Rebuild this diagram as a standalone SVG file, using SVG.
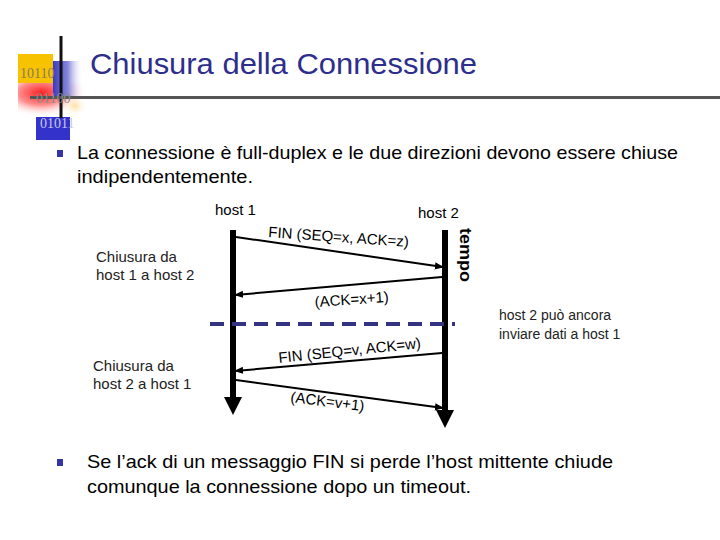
<svg xmlns="http://www.w3.org/2000/svg" width="720" height="540" viewBox="0 0 720 540">
<defs>
<linearGradient id="gBlue" x1="0" y1="0" x2="1" y2="0">
<stop offset="0" stop-color="#3a3ac0"/><stop offset="0.5" stop-color="#8888dd"/><stop offset="1" stop-color="#ffffff" stop-opacity="0"/>
</linearGradient>
<radialGradient id="gRed" cx="0.35" cy="0.3" r="0.7">
<stop offset="0" stop-color="#ff2020"/><stop offset="0.5" stop-color="#ff9090"/><stop offset="1" stop-color="#ffffff" stop-opacity="0"/>
</radialGradient>
<radialGradient id="gOr" cx="0.5" cy="0.5" r="0.5">
<stop offset="0" stop-color="#ffe0a0"/><stop offset="1" stop-color="#ffffff" stop-opacity="0"/>
</radialGradient>
<marker id="ah" viewBox="0 0 10 10" refX="9" refY="5" markerWidth="9" markerHeight="9" markerUnits="userSpaceOnUse" orient="auto">
<path d="M0,1 L10,5 L0,9 Z" fill="#000"/>
</marker>
<marker id="big" viewBox="0 0 10 10" refX="5" refY="5" markerWidth="18" markerHeight="18" markerUnits="userSpaceOnUse" orient="auto">
<path d="M0,0 L10,5 L0,10 Z" fill="#000"/>
</marker>
</defs>
<style>
.t{font-family:"Liberation Sans",Arial,sans-serif;}
.title{font-size:30px;fill:#2e2e8c;}
.body{font-size:19px;fill:#000;}
.note{font-size:15px;fill:#222;}
.lbl{font-size:15px;fill:#000;}
.bin{font-family:"Liberation Serif",serif;font-size:14px;}
.msg{stroke:#000;stroke-width:2;fill:none;marker-end:url(#ah);}
.life{stroke:#000;stroke-width:6;fill:none;marker-end:url(#big);}
</style>
<rect width="720" height="540" fill="#fff"/>
<g id="logo">
<rect x="18" y="83" width="66" height="34" fill="url(#gRed)"/>
<rect x="62" y="95" width="26" height="22" fill="url(#gOr)"/>
<rect x="18" y="54" width="35" height="29" fill="#f7c200"/>
<rect x="53" y="61" width="30" height="36" fill="url(#gBlue)"/>
<rect x="36" y="117" width="34" height="23" fill="#3333cc"/>
<line x1="61" y1="36" x2="61" y2="118" stroke="#111" stroke-width="3"/>
<line x1="30" y1="97.5" x2="720" y2="97.5" stroke="#555" stroke-width="3"/>
<text class="bin" x="20" y="78" fill="#8a7a5a">10110</text>
<text class="bin" x="36" y="103" fill="#8a8a8a">01100</text>
<text class="bin" x="40" y="128" fill="#c8c8e8">01011</text>
</g>
<g id="title"><text class="t title" x="90" y="74" textLength="387" lengthAdjust="spacingAndGlyphs">Chiusura della Connessione</text></g>
<g id="bullet1">
<rect x="57" y="150" width="6" height="7" fill="#3333aa"/>
<text class="t body" x="77" y="159" textLength="601" lengthAdjust="spacingAndGlyphs">La connessione è full-duplex e le due direzioni devono essere chiuse</text>
<text class="t body" x="77" y="183" textLength="176" lengthAdjust="spacingAndGlyphs">indipendentemente.</text>
</g>
<g id="host1">
<text class="t lbl" x="215" y="215">host 1</text>
<line class="life" x1="233" y1="230" x2="233" y2="406"/>
</g>
<g id="host2">
<text class="t lbl" x="418" y="218">host 2</text>
<line class="life" x1="445" y1="230" x2="445" y2="419"/>
<text class="t" x="460" y="228" transform="rotate(90 460 228)" font-size="17" font-weight="bold" textLength="54" lengthAdjust="spacingAndGlyphs">tempo</text>
</g>
<g id="notes">
<text class="t note" x="96" y="262">Chiusura da</text>
<text class="t note" x="96" y="280">host 1 a host 2</text>
<text class="t note" x="93" y="371">Chiusura da</text>
<text class="t note" x="93" y="389">host 2 a host 1</text>
<text class="t" x="499" y="320" font-size="14" fill="#222">host 2 può ancora</text>
<text class="t" x="499" y="339" font-size="14" fill="#222">inviare dati a host 1</text>
</g>
<g id="connectors">
<line class="msg" x1="236" y1="237" x2="443" y2="267"/>
<line class="msg" x1="442" y1="277" x2="235" y2="295"/>
<line x1="210" y1="324" x2="455" y2="324" stroke="#333380" stroke-width="4" stroke-dasharray="14,8"/>
<line class="msg" x1="442" y1="353" x2="235" y2="371"/>
<line class="msg" x1="236" y1="380" x2="443" y2="408"/>
</g>
<g id="labels">
<text class="t lbl" x="268" y="237" transform="rotate(4 268 237)">FIN (SEQ=x, ACK=z)</text>
<text class="t lbl" x="315" y="307" transform="rotate(-4 315 307)">(ACK=x+1)</text>
<text class="t lbl" x="279" y="363" transform="rotate(-6 279 363)">FIN (SEQ=v, ACK=w)</text>
<text class="t lbl" x="290" y="402" transform="rotate(7 290 402)">(ACK=v+1)</text>
</g>
<g id="bullet2">
<rect x="57" y="459" width="6" height="7" fill="#3333aa"/>
<text class="t body" x="87" y="468" textLength="526" lengthAdjust="spacingAndGlyphs">Se l’ack di un messaggio FIN si perde l’host mittente chiude</text>
<text class="t body" x="87" y="493" textLength="384" lengthAdjust="spacingAndGlyphs">comunque la connessione dopo un timeout.</text>
</g>
</svg>
